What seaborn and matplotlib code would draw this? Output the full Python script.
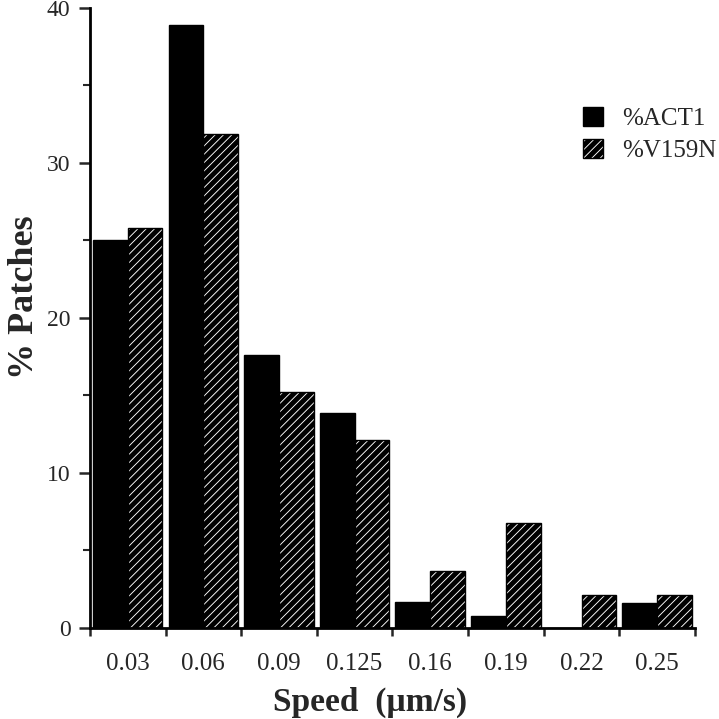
"""
Speed distribution of patches: ACT1 vs V159N, grouped bars.
"""

import matplotlib

matplotlib.use("Agg")
import matplotlib.pyplot as plt
import numpy as np
import pandas as pd
import seaborn as sns
from matplotlib.patches import Patch
from matplotlib.ticker import MultipleLocator

# Data
speeds = ["0.03", "0.06", "0.09", "0.125", "0.16", "0.19", "0.22", "0.25"]
act1 = [25.0, 38.9, 17.6, 13.9, 1.7, 0.8, 0.0, 1.6]
v159n = [25.8, 31.9, 15.2, 12.1, 3.7, 6.8, 2.1, 2.1]
series_names = ["%ACT1", "%V159N"]

df = pd.DataFrame(
    {
        "speed": speeds * 2,
        "pct": act1 + v159n,
        "series": [series_names[0]] * len(speeds) + [series_names[1]] * len(speeds),
    }
)

sns.set_style("ticks")
plt.rcParams["font.family"] = ["Liberation Serif", "DejaVu Serif"]
plt.rcParams["hatch.linewidth"] = 0.65

fig = plt.figure(figsize=(7.19, 7.19), dpi=100)
ax = fig.add_axes([0.125, 0.1266, 0.8416, 0.8623])

sns.barplot(
    data=df,
    x="speed",
    y="pct",
    hue="series",
    order=speeds,
    hue_order=series_names,
    palette=["black", "black"],
    width=0.92,
    edgecolor="black",
    linewidth=1.0,
    legend=False,
    ax=ax,
)

# hatched second series: white diagonal lines on black
for bar in ax.containers[1]:
    bar.set_hatch("////")
    bar._hatch_color = (1, 1, 1, 1)

ax.set_xlim(-0.5, len(speeds) - 0.5)
ax.set_ylim(0, 40)
ax.yaxis.set_major_locator(MultipleLocator(10))
ax.yaxis.set_minor_locator(MultipleLocator(5))

# labels at group centres, ticks at group boundaries
ax.set_xticks(np.arange(len(speeds)))
ax.set_xticklabels(speeds)
ax.set_xticks(np.arange(len(speeds) + 1) - 0.5, minor=True)
ax.tick_params(axis="x", which="major", length=0, pad=18, labelsize=18)
ax.tick_params(axis="x", which="minor", length=6, width=1.8, direction="out")
ax.tick_params(axis="y", which="major", length=8, width=1.8, labelsize=17, pad=6)
ax.tick_params(axis="y", which="minor", length=5, width=1.5)

for side in ["left", "bottom"]:
    ax.spines[side].set_linewidth(2)
    ax.spines[side].set_color("black")
sns.despine(ax=ax)

ax.set_xlabel("Speed  (\u00b5m/s)", fontsize=24, fontweight="bold")
ax.set_ylabel("% Patches", fontsize=26, fontweight="bold")
ax.xaxis.set_label_coords(0.463, -0.095)
ax.yaxis.set_label_coords(-0.08, 0.534)

handles = [
    Patch(facecolor="black", edgecolor="black", label=series_names[0]),
    Patch(facecolor="black", edgecolor="black", hatch="////", label=series_names[1]),
]
handles[1]._hatch_color = (1, 1, 1, 1)
ax.legend(
    handles=handles,
    loc="upper left",
    bbox_to_anchor=(0.815, 0.84),
    borderaxespad=0,
    borderpad=0,
    frameon=False,
    fontsize=18,
    handlelength=0.8,
    handleheight=0.8,
    handletextpad=0.75,
    labelspacing=0.35,
)

plt.savefig("out.png", dpi=100)
